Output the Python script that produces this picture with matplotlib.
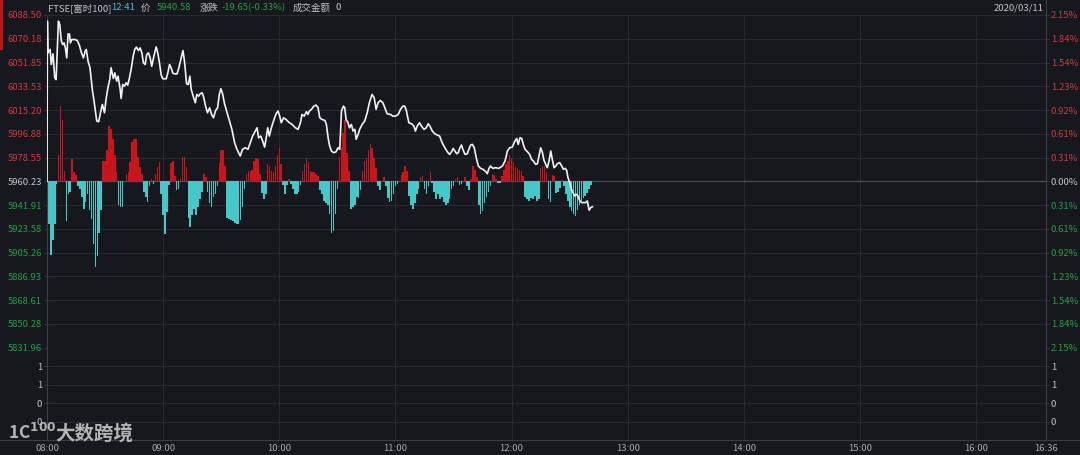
import matplotlib
matplotlib.use('Agg')
import matplotlib.pyplot as plt
from matplotlib.patches import Rectangle
from matplotlib.lines import Line2D

plt.rcParams['font.family'] = ['Noto Sans CJK SC', 'DejaVu Sans']

# ---- data ----
prev_close = 5960.23
price_ticks = [6088.50, 6070.18, 6051.85, 6033.53, 6015.20, 5996.88, 5978.55, 5960.23,
               5941.91, 5923.58, 5905.26, 5886.93, 5868.61, 5850.28, 5831.96]
pct_labels = ['2.15%', '1.84%', '1.54%', '1.23%', '0.92%', '0.61%', '0.31%', '0.00%',
              '0.31%', '0.61%', '0.92%', '1.23%', '1.54%', '1.84%', '2.15%']
vol_ticks = [0.25, 0.5, 0.75, 1.0]
vol_labels = ['0', '0', '1', '1']
time_ticks = [0, 60, 120, 180, 240, 300, 360, 420, 480, 516]
time_labels = ['08:00', '09:00', '10:00', '11:00', '12:00', '13:00', '14:00', '15:00', '16:00', '16:36']

# price line vertices (minutes after 08:00, index value)
line_minutes = [0, 0.2, 0.5, 1.6, 2.2, 3.1, 4.0, 4.7, 5.2, 5.9, 6.6, 7.4, 8.1, 8.8, 9.5, 10.2,
                10.9, 11.6, 12.1, 12.8, 14.3, 15.7, 16.7, 17.8, 18.8, 19.7, 20.3, 21.2, 22.2,
                23.5, 24.3, 25.7, 26.7, 27.8, 28.6, 29.7, 30.5, 31.4, 32.4, 33.1, 33.8, 34.3,
                35.0, 36.0, 36.7, 37.8, 38.3, 39.1, 40.0, 40.9, 41.7, 42.6, 43.6, 44.5, 45.3,
                46.2, 47.2, 48.1, 49.0, 49.8, 50.7, 51.5, 52.4, 53.3, 54.1, 55.2, 56.4, 57.2,
                58.1, 59.0, 59.8, 61.6, 62.4, 63.3, 64.1, 65.0, 66.0, 67.2, 68.1, 69.1, 70.2,
                71.0, 72.1, 73.0, 73.8, 74.5, 75.5, 76.6, 77.4, 78.3, 79.1, 80.2, 81.0, 81.9,
                82.9, 84.0, 85.0, 86.0, 87.1, 88.1, 89.0, 89.8, 90.7, 91.7,
                93.8, 95.5, 96.9, 98.1, 99.8, 101.0, 102.4, 103.8, 105.0, 106.2, 107.6, 108.5,
                109.3, 110.4, 111.4, 112.4, 113.1, 114.0, 114.8, 115.9, 117.1, 118.3, 119.3,
                120.2, 121.0, 122.2, 123.5, 124.8, 126.6, 128.3, 129.7, 130.9, 131.7, 132.9,
                134.0, 134.8, 135.5, 136.6, 137.8, 139.0, 140.0, 140.9, 142.1, 143.5, 144.3,
                145.2, 146.0, 146.9, 148.1, 149.3, 150.3, 151.2, 152.1, 153.1, 153.8, 154.5,
                155.5, 156.2, 157.2, 158.1, 159.0, 159.7, 160.7, 161.5, 162.8, 164.1, 165.4,
                166.5, 167.9, 169.0, 170.0, 171.0, 172.2, 173.5, 174.5, 175.7, 177.4, 178.6,
                180.0, 181.4, 182.6, 183.8, 184.8, 185.7,
                186.0, 186.9, 188.3, 189.5, 190.3, 191.2, 192.4, 193.4, 194.7, 195.9, 196.9,
                197.8, 199.0, 200.3, 201.6, 202.8, 204.1, 205.5, 206.7, 207.9, 209.0, 209.8,
                210.7, 211.6, 212.4, 213.3, 214.1, 214.8, 215.9, 217.1, 217.9, 218.8, 219.7,
                220.7, 221.7, 222.8, 224.0, 225.2, 226.6, 227.4, 228.3, 229.1, 230.3, 231.7,
                233.4, 235.2, 236.6, 237.8, 239.0, 240.3, 241.7, 242.6, 243.4, 244.3, 245.2,
                246.0, 246.9, 248.1, 249.3, 250.3, 251.2, 252.4, 253.3, 254.1, 255.0, 255.9,
                256.7, 257.6, 258.4, 259.3, 260.2, 261.0, 261.9, 262.8, 263.6, 264.8, 265.9,
                266.7, 267.6, 268.4, 269.1, 270.0, 270.9, 271.7, 272.6, 273.4, 274.3, 275.2,
                276.2, 277.4, 278.3, 279.1, 280.0, 280.9, 281.7]
line_prices = [5960.2, 6083.7, 6059.3, 6061.9, 6050.3, 6058.5, 6040.0, 6038.7, 6058.0, 6083.7,
               6081.1, 6068.3, 6065.7, 6067.0, 6063.1, 6055.4, 6073.9, 6073.9, 6067.0, 6069.6,
               6069.6, 6068.8, 6065.2, 6059.3, 6055.4, 6060.6, 6061.9, 6052.9, 6047.8, 6029.8,
               6022.1, 6006.7, 6006.2, 6014.4, 6019.5, 6013.1, 6023.4, 6031.8, 6038.7, 6047.8,
               6042.6, 6039.5, 6043.9, 6037.5, 6041.3, 6031.1, 6024.1, 6034.9, 6033.6, 6036.2,
               6034.4, 6040.0, 6047.8, 6056.7, 6061.9, 6063.7, 6061.1, 6063.1, 6059.3, 6051.6,
               6050.3, 6058.0, 6059.3, 6055.4, 6049.0, 6056.7, 6063.9, 6059.3, 6051.6, 6042.1,
               6039.3, 6039.3, 6043.9, 6050.3, 6047.8, 6043.6, 6043.1, 6043.1, 6047.8, 6054.2,
               6061.1, 6052.9, 6035.4, 6034.9, 6041.3, 6031.1, 6025.9, 6020.8, 6027.2, 6025.9,
               6027.7, 6028.5, 6024.6, 6018.2, 6013.1, 6016.9, 6011.8, 6009.2, 6014.9, 6016.9,
               6027.2, 6031.6, 6027.7, 6020.0,
               6009.2, 6000.3, 5990.0, 5984.9, 5979.7, 5984.9, 5986.1, 5984.9, 5990.0, 5995.1,
               5999.0, 6001.5, 5993.8, 5995.1, 5991.3, 5986.6, 5992.6, 6001.5, 5995.1, 6001.5,
               6007.2, 6012.3, 6014.4, 6010.5, 6005.4, 6009.2, 6007.9, 6005.9, 6004.1, 6001.5,
               6000.3, 6005.4, 6011.8, 6010.5, 6013.9, 6011.8, 6014.4, 6015.7, 6018.2, 6019.0,
               6016.9, 6009.2, 6007.9, 6007.2, 6004.1, 5993.8, 5987.4, 5983.6, 5982.3, 5983.0,
               5986.1, 5984.9, 6014.4, 6018.2, 6016.9, 6007.9, 6005.4, 6001.5, 6004.1, 5999.0,
               6000.3, 5992.6, 5996.4, 6000.3, 6004.1, 6006.7, 6013.1, 6020.8, 6027.2, 6024.6,
               6015.7, 6020.8, 6022.6, 6020.8, 6016.9, 6012.3, 6011.8, 6010.5, 6010.5, 6011.8,
               6015.7, 6018.2, 6018.2, 6014.4,
               6011.8, 6005.4, 6004.6, 6002.8, 5999.0, 6002.8, 6005.4, 6002.8, 6000.3, 6001.5,
               6004.6, 6002.8, 5999.0, 5996.9, 5995.9, 5995.1, 5990.0, 5986.1, 5983.1, 5981.0,
               5983.1, 5985.6, 5983.6, 5981.5, 5982.3, 5986.1, 5988.2, 5984.9, 5981.0, 5981.5,
               5984.9, 5988.2, 5988.7, 5986.1, 5978.4, 5972.0, 5970.2, 5969.5, 5967.7, 5966.1,
               5970.2, 5972.0, 5970.2, 5970.7, 5970.2, 5972.0, 5975.9, 5983.6, 5986.1, 5986.6,
               5991.3, 5993.3, 5988.7, 5993.8, 5993.3, 5988.7, 5984.9, 5983.1, 5981.0, 5977.1,
               5975.9, 5973.3, 5973.8, 5979.7, 5986.1, 5982.3, 5976.4, 5973.3, 5970.7, 5975.9,
               5983.6, 5977.1, 5970.7, 5972.0, 5973.8, 5974.6, 5972.0, 5969.5, 5970.2, 5968.7,
               5963.0, 5959.2, 5954.1, 5951.5, 5948.9, 5950.2, 5948.9, 5945.1, 5943.8, 5943.8,
               5943.8, 5945.1, 5937.9, 5940.0, 5940.6]

# per-minute bar values, measured from the previous close (08:00 .. 12:41)
bar_values = [-38, -33, -57, -45, -33, -2, 20, 58, 47, 8,
              -31, -10, -8, 17, 7, 5, -4, -6, -12, -21,
              -16, -10, -22, -29, -48, -66, -58, -40, -22, 16,
              16, 24, 43, 40, 33, 20, 7, -18, -20, -20,
              0, 6, 7, 15, 30, 33, 33, 19, 11, 6,
              -8, -12, -16, -4, 2, -2, 6, 11, 15, -10,
              -26, -41, -24, -3, 14, 16, 4, -7, -6, 2,
              19, 19, 11, -28, -35, -26, -21, -26, -20, -14,
              -8, 6, 3, -8, -17, -20, -12, -10, -4, 14,
              24, 24, 12, -28, -29, -30, -31, -32, -33, -33,
              -30, -20, -6, 6, 8, 8, 9, 16, 18, 17,
              6, -9, -14, -10, 13, 12, 8, 7, 12, 20,
              26, 13, -3, -10, -3, 2, -2, -6, -10, -10,
              -8, -3, 8, 13, 18, 15, 8, 7, 7, 6,
              4, -7, -10, -15, -17, -18, -25, -40, -38, -25,
              -6, 19, 26, 37, 47, 22, 8, -21, -20, -18,
              -12, -13, -7, 8, 16, 18, 24, 29, 26, 18,
              10, -4, -7, 0, 3, -4, -13, -16, -15, -10,
              -4, -2, 0, 5, 7, 12, 8, -11, -18, -21,
              -17, -10, -6, 3, 4, -6, -10, -4, 7, -1,
              -8, -14, -10, -14, -12, -16, -18, -17, -14, -6,
              -4, 2, 3, -3, -2, 0, 3, -4, -7, 2,
              12, 9, 3, -18, -25, -23, -17, -12, -8, -4,
              6, 5, 2, -1, -1, 4, 9, 13, 16, 20,
              18, 15, 11, 10, 9, 8, 4, -12, -14, -15,
              -13, -14, -11, -15, -14, 10, 12, 12, 7, -14,
              -16, 5, 4, -9, -8, -5, 1, -4, -10, -15,
              -20, -23, -25, -27, -22, -18, -15, -13, -11, -9,
              -6, -3]

# ---- style ----
BG = '#16181d'
GRID = '#272a30'
SPINE = '#3a3d43'
BAR_RED = '#c8141b'
BAR_CYAN = '#45c8ca'
TXT_RED = '#cf3a3f'
TXT_GREEN = '#23a046'
TXT_GRAY = '#c4c4c4'
W, H = 1080, 455


def fx(px):
    return px / W


def fy(py):
    return 1 - py / H


fig = plt.figure(figsize=(W / 100, H / 100), dpi=100)
fig.patch.set_facecolor(BG)

left, right = 47, 1046
p_top, p_bot, v_bot = 15, 347.6, 440
ax = fig.add_axes([fx(left), fy(p_bot), (right - left) / W, (p_bot - p_top) / H])
axv = fig.add_axes([fx(left), fy(v_bot), (right - left) / W, (v_bot - p_bot) / H])

for a in (ax, axv):
    a.set_facecolor(BG)
    a.set_xlim(0, 516)
    for s in ('top', 'bottom'):
        a.spines[s].set_visible(False)
    for s in ('left', 'right'):
        a.spines[s].set_color(SPINE)
        a.spines[s].set_linewidth(0.8)
    for t in time_ticks:
        a.axvline(t, color=GRID, lw=0.8, zorder=0)

# price panel
ax.set_ylim(price_ticks[-1], price_ticks[0])
for v in price_ticks:
    ax.axhline(v, color=GRID, lw=0.8, zorder=0)
ax.axhline(prev_close, color='#4a4d53', lw=0.9, zorder=1)

minutes = list(range(len(bar_values)))
colors = [BAR_RED if v > 0 else BAR_CYAN for v in bar_values]
ax.bar(minutes, bar_values, bottom=prev_close, width=0.8, color=colors,
       linewidth=0, antialiased=False, zorder=2)
ax.plot(line_minutes, line_prices, color='#f2f2f2', lw=1.2, zorder=3)

ax.set_xticks([])
ax.set_yticks(price_ticks)
tick_cols = [TXT_RED if v > prev_close + 0.01 else (TXT_GREEN if v < prev_close - 0.01 else TXT_GRAY)
             for v in price_ticks]
ax.set_yticklabels(['%.2f' % v for v in price_ticks], fontsize=6.8)
for lab, c in zip(ax.get_yticklabels(), tick_cols):
    lab.set_color(c)
ax.tick_params(axis='y', length=2, width=0.6, color=SPINE, pad=1.5)

axr = ax.twinx()
axr.set_ylim(ax.get_ylim())
axr.set_yticks(price_ticks)
axr.set_yticklabels(pct_labels, fontsize=6.8)
for lab, c in zip(axr.get_yticklabels(), tick_cols):
    lab.set_color(c)
axr.tick_params(axis='y', length=2, width=0.6, color=SPINE, pad=1.5)
for s in axr.spines.values():
    s.set_visible(False)

# volume panel
axv.set_ylim(0, 1.25)
for v in vol_ticks:
    axv.axhline(v, color=GRID, lw=0.8, zorder=0)
axv.set_yticks(vol_ticks)
axv.set_yticklabels(vol_labels, fontsize=6.8, color=TXT_GRAY)
axv.tick_params(axis='y', length=2, width=0.6, color=SPINE, pad=1.5, labelright=True, right=True)
axv.set_xticks(time_ticks)
axv.set_xticklabels(time_labels, fontsize=6.8, color='#a8a8a8')
axv.tick_params(axis='x', length=0, pad=3)

# frame lines
fig.add_artist(Line2D([0, 1], [fy(440), fy(440)], color=SPINE, lw=0.8))
fig.add_artist(Line2D([fx(left), fx(right)], [fy(p_top), fy(p_top)], color=GRID, lw=0.8))
fig.add_artist(Line2D([fx(right), fx(right)], [fy(0), fy(p_top)], color=SPINE, lw=0.8))
fig.add_artist(Rectangle((0, fy(50)), fx(3), 50 / H, color='#c0141c', lw=0))

# header
hy = fy(8)
hs = 6.8
fig.text(fx(48), hy, 'FTSE[富时100]', color=TXT_GRAY, fontsize=hs, va='center')
fig.text(fx(111), hy, '12:41', color='#4cc0d6', fontsize=hs, va='center')
fig.text(fx(141), hy, '价', color=TXT_GRAY, fontsize=hs, va='center')
fig.text(fx(157), hy, '5940.58', color=TXT_GREEN, fontsize=hs, va='center')
fig.text(fx(200), hy, '涨跌', color=TXT_GRAY, fontsize=hs, va='center')
fig.text(fx(222), hy, '-19.65(-0.33%)', color=TXT_GREEN, fontsize=hs, va='center')
fig.text(fx(293), hy, '成交金额', color=TXT_GRAY, fontsize=hs, va='center')
fig.text(fx(335), hy, '0', color=TXT_GRAY, fontsize=hs, va='center')
fig.text(fx(1043), hy, '2020/03/11', color=TXT_GRAY, fontsize=hs, va='center', ha='right')

# watermark
fig.text(fx(8), fy(433), r'1C$^{\mathbf{100}}$', color='#d0d0d0', alpha=0.85, fontsize=12.5,
         fontweight='bold', va='center')
fig.text(fx(55), fy(434), '大数跨境', color='#d0d0d0', alpha=0.85, fontsize=14,
         fontweight='bold', va='center')

fig.savefig('out.png', dpi=100, facecolor=BG)
